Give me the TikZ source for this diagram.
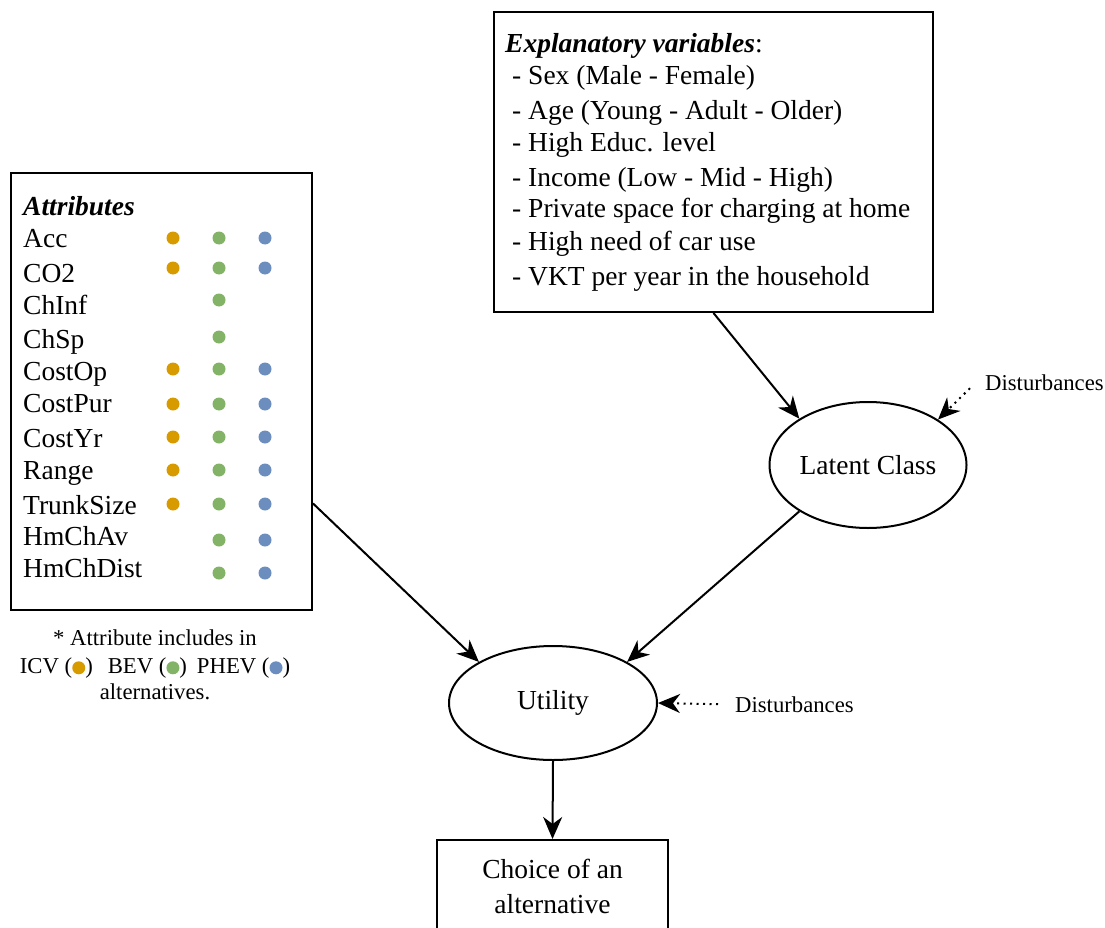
\documentclass[tikz,border=0pt]{standalone}
\usepackage{fontspec}
\setmainfont{Liberation Serif}
\usetikzlibrary{arrows.meta,shapes.geometric,calc}
\definecolor{dorange}{HTML}{D79B00}
\definecolor{dgreen}{HTML}{82B366}
\definecolor{dblue}{HTML}{6C8EBF}
\newcommand{\bigfont}{\fontsize{27.5}{33}\selectfont}
\newcommand{\smallfont}{\fontsize{22.7}{27}\selectfont}
\newcommand{\fdot}[1]{\tikz[baseline=-5.2pt]\fill[#1] (0,0) circle (6.5pt);}
\begin{document}
\begin{tikzpicture}[x=1pt,y=-1pt,
  box/.style={draw, rectangle, inner sep=0pt, line width=2pt},
  oval/.style={draw, ellipse, inner sep=0pt, line width=2pt, font=\bigfont},
  arr/.style={-{Stealth[length=22pt,width=19pt,inset=7pt]}, line width=2pt},
  dotarr/.style={arr, dash pattern=on 2pt off 4.5pt},
  txt/.style={inner sep=0pt, anchor=base west, font=\bigfont},
  stxt/.style={inner sep=0pt, anchor=base west, font=\smallfont},
  attrdot/.style={circle, fill=#1, inner sep=0pt, minimum size=13pt}
]
\useasboundingbox (0,0) rectangle (1105,928);
\clip (0,0) rectangle (1105,928);

% boxes and ellipses
\node[box, minimum width=301pt, minimum height=437pt] (attr) at (161.5,391.5) {};
\node[box, minimum width=439pt, minimum height=300pt] (expl) at (713.5,162) {};
\node[oval, minimum width=197pt, minimum height=126pt] (lat) at (868,465) {Latent Class};
\node[oval, minimum width=208pt, minimum height=114pt] (util) at (553,703) {Utility};
\node[box, minimum width=231pt, minimum height=93pt, align=center,
      font=\fontsize{27.5}{35}\selectfont] (choice) at (552.5,886.5) {Choice of an\\alternative};

% explanatory variables
\node[txt] (e0) at (505,53) {\textbf{\textit{Explanatory variables}}:};
\foreach \yy/\tt [count=\i] in {85/Sex (Male - Female),
    120/Age (Young - Adult - Older),
    152/High Educ. level,
    187/Income (Low - Mid - High),
    218/Private space for charging at home,
    250/High need of car use,
    285/VKT per year in the household}
  \node[txt] (e\i) at (512,\yy) {- \tt};

% attributes
\node[txt] (a0) at (23,215) {\textbf{\textit{Attributes}}};
\foreach \yy/\tt [count=\i] in {247/Acc, 282/CO2, 314/ChInf, 348/ChSp, 380/CostOp,
    412/CostPur, 447/CostYr, 479/Range, 514/TrunkSize, 545/HmChAv, 577/HmChDist}
  \node[txt] (a\i) at (23,\yy) {\tt};

\foreach \yy [count=\i] in {238,268,369,404,437,470,504}
  \node[attrdot=dorange] (o\i) at (173,\yy) {};
\foreach \yy [count=\i] in {238,268,300,337,369,404,437,470,504,540,573}
  \node[attrdot=dgreen] (g\i) at (219,\yy) {};
\foreach \yy [count=\i] in {238,268,369,404,437,470,504,540,573}
  \node[attrdot=dblue] (b\i) at (265,\yy) {};

% footnote
\node[inner sep=0pt, anchor=base, font=\smallfont] (fn1) at (155,645) {* Attribute includes in};
\node[inner sep=0pt, anchor=base, font=\smallfont] (fn2) at (155,673)
  {ICV (\fdot{dorange})\hspace{15pt}BEV (\fdot{dgreen})\hspace{10pt}PHEV (\fdot{dblue})};
\node[inner sep=0pt, anchor=base, font=\smallfont] (fn3) at (155,699) {alternatives.};

% disturbances
\node[stxt] (dist1) at (985,390) {Disturbances};
\node[stxt] (dist2) at (735,712) {Disturbances};

% connectors
\draw[arr] (expl.south) -- (lat.146);
\draw[arr] (lat.214) -- (util.29);
\draw[arr] ($(attr.north east)!0.755!(attr.south east)$) -- (util.151);
\draw[arr] (util.south) -- (choice.north);
\draw[dotarr] ([xshift=-15pt,yshift=-6pt]dist1.west) -- (lat.33);
\draw[dotarr] ([xshift=-17pt]dist2.west) -- (util.east);
\end{tikzpicture}
\end{document}
